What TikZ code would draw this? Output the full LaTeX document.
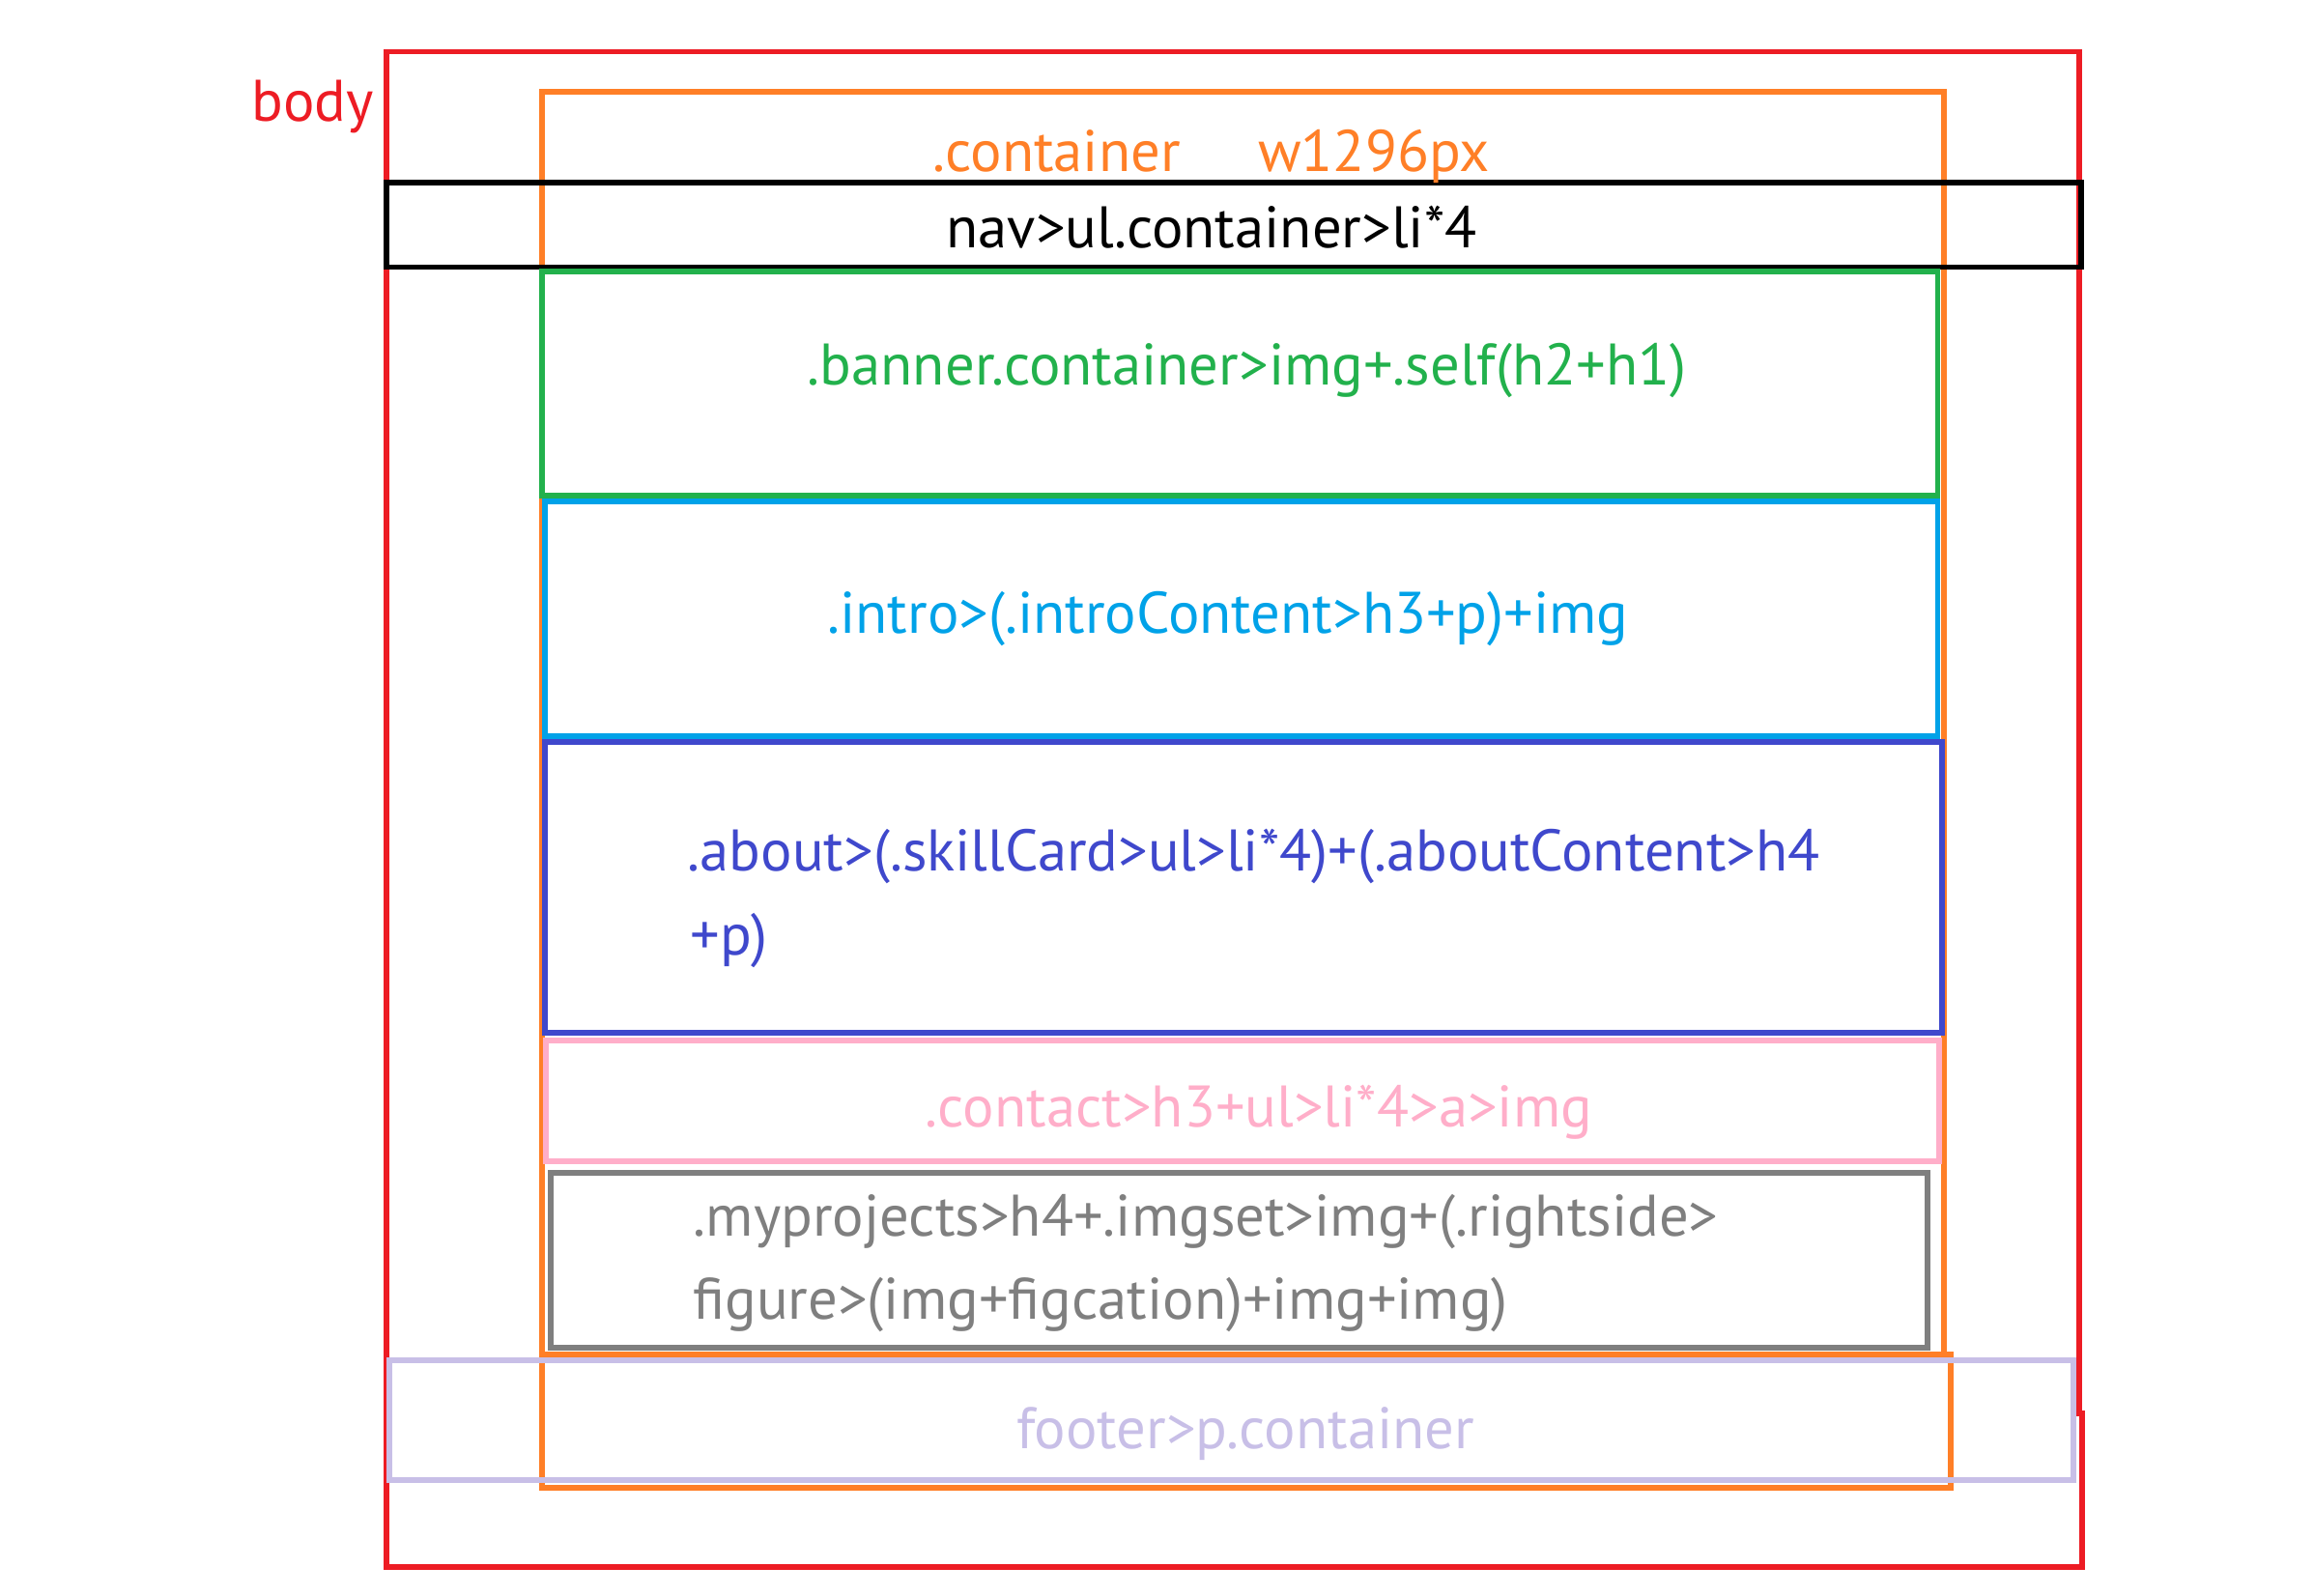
\documentclass[tikz,border=0pt]{standalone}
\usepackage{fontspec}
\setmainfont{PT Sans}
\definecolor{paintred}{RGB}{237,28,36}
\definecolor{paintorange}{RGB}{255,127,39}
\definecolor{paintgreen}{RGB}{34,177,76}
\definecolor{paintcyan}{RGB}{0,162,232}
\definecolor{paintblue}{RGB}{63,72,204}
\definecolor{paintpink}{RGB}{255,174,201}
\definecolor{paintgray}{RGB}{127,127,127}
\definecolor{paintlavender}{RGB}{200,191,231}
\usetikzlibrary{positioning}

\begin{document}
\begin{tikzpicture}[
  x=0.01cm,
  y=-0.01cm,
  line width=1.1pt,
  mybox/.style={draw=#1},
  mylabel/.style={
    text=#1,
    font=\fontsize{11.3}{13}\selectfont,
    inner sep=0pt,
    anchor=base
    }
]
\useasboundingbox (0,0) rectangle (1568,1081);

\draw[mybox=paintred] (262,35) -- (1409,35) -- (1409,958) -- (1411,958)
  -- (1411,1062) -- (262,1062) -- cycle;
\draw[mybox=paintorange] (367,62) rectangle (1317,918);
\draw[mybox=paintorange] (367,918) rectangle (1322,1008);

\foreach \Color/\Left/\Top/\Right/\Bottom in {
  black/262/124/1410/181,
  paintgreen/367/184/1313/336,
  paintcyan/369/340/1313/499,
  paintblue/369/503/1316/700,
  paintpink/370/705/1314/787,
  paintgray/373/795/1306/913,
  paintlavender/264/922/1405/1003}
  \draw[mybox=\Color] (\Left,\Top) rectangle (\Right,\Bottom);

\node[mylabel=paintred, anchor=base east] (body) at (255,82) {body};
\node[mylabel=paintorange] (container) at (716,116) {.container};
\node[mylabel=paintorange] (width) at (931,116) {w1296px};
\node[mylabel=black] (nav) at (821,168) {nav>ul.container>li*4};
\node[mylabel=paintgreen] (banner) at (845,261) {.banner.container>img+.self(h2+h1)};
\node[mylabel=paintcyan] (intro) at (832,429) {.intro>(.introContent>h3+p)+img};
\node[mylabel=paintblue, anchor=base west] (about) at (464,590) {.about>(.skillCard>ul>li*4)+(.aboutContent>h4};
\node[mylabel=paintblue, anchor=base west] (aboutmore) at (466,647) {+p)};
\node[mylabel=paintpink] (contact) at (853,764) {.contact>h3+ul>li*4>a>img};
\node[mylabel=paintgray, anchor=base west] (projects) at (468,838) {.myprojects>h4+.imgset>img+(.rightside>};
\node[mylabel=paintgray, anchor=base west] (projectsmore) at (468,894) {figure>(img+figcation)+img+img)};
\node[mylabel=paintlavender] (footer) at (844,982) {footer>p.container};

\end{tikzpicture}
\end{document}
